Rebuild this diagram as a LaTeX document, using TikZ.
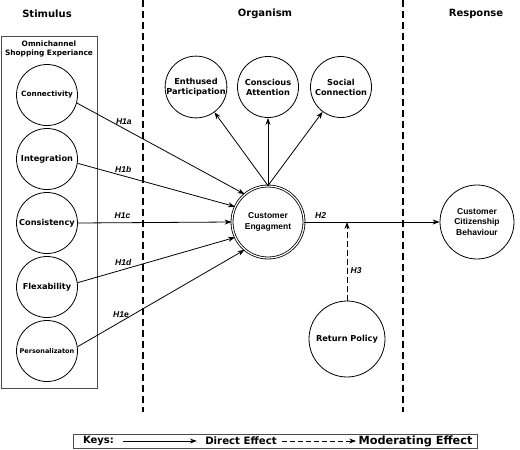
\documentclass[tikz,border=0pt]{standalone}
\usepackage{fontspec}
\setmainfont{DejaVu Sans}
\newfontfamily\arialfont{Liberation Sans}
\usepackage{tikz}
\usetikzlibrary{shapes, arrows.meta, positioning}
\tikzstyle{construct} = [circle, draw, minimum size=61pt, inner sep=0pt,
    align=center, font=\bfseries\fontsize{8.2}{10}\selectfont]
\tikzstyle{central} = [circle, draw, double, double distance=1.2pt, minimum size=72pt,
    inner sep=0pt, align=center, font=\arialfont\bfseries\fontsize{8.5}{11}\selectfont]
\tikzstyle{outcome} = [circle, draw, minimum size=74pt, inner sep=0pt,
    align=center, font=\arialfont\bfseries\fontsize{8.5}{10.5}\selectfont]
\tikzstyle{header} = [font=\bfseries\fontsize{10}{12}\selectfont]
\tikzstyle{hyp} = [font=\arialfont\bfseries\itshape\fontsize{8.5}{10}\selectfont]
\tikzstyle{keytext} = [inner sep=0pt, font=\bfseries\fontsize{10}{12}\selectfont]
\tikzstyle{frame} = [draw=black!70, inner sep=0pt]
\tikzstyle{line} = [draw, -{Stealth[length=7pt, width=5pt]}]
\tikzstyle{divider} = [draw, line width=1.3pt, dash pattern=on 7pt off 4pt]

\begin{document}
\begin{tikzpicture}[x=1pt, y=1pt, node distance=64pt, line width=0.8pt]
        \useasboundingbox (0,0) rectangle (520,-450);
        % Headers and dividers
        \node [header] (stimulus) at (47,-14) {Stimulus};
        \node [header] (organism) at (265,-14) {Organism};
        \node [header] (response) at (476,-14) {Response};
        \coordinate (divtopA) at (143,0);
        \coordinate (divbotA) at (143,-412);
        \coordinate (divtopB) at (403,0);
        \coordinate (divbotB) at (403,-412);
        \path [divider] (divtopA) -- (divbotA);
        \path [divider] (divtopB) -- (divbotB);
        % Stimulus box
        \node [frame, minimum width=96pt, minimum height=352pt] (omnibox) at (49,-212) {};
        \node [below=2pt of omnibox.north, align=center,
            font=\bfseries\fontsize{7.4}{9}\selectfont] (omni) {Omnichannel\\Shopping Experiance};
        % Place nodes
        \node [construct, font=\bfseries\fontsize{7.3}{9}\selectfont] (conn) at (47,-95) {Connectivity};
        \node [construct, below of=conn] (integ) {Integration};
        \node [construct, below of=integ] (consist) {Consistency};
        \node [construct, below of=consist] (flex) {Flexability};
        \node [construct, below of=flex, font=\bfseries\fontsize{6.5}{8}\selectfont] (person) {Personalizaton};
        \node [central] (engage) at (268,-222) {Customer\\Engagment};
        \node [construct, above of=engage, node distance=135pt] (attention) {Conscious\\Attention};
        \node [construct, left of=attention, node distance=72pt] (enthused) {Enthused\\Participation};
        \node [construct, right of=attention, node distance=73pt] (social) {Social\\Connection};
        \node [outcome, right of=engage, node distance=209pt] (citizen) {Customer\\Citizenship\\Behaviour};
        \node [construct, minimum size=76pt] (policy) at (347,-339) {Return Policy};
        \coordinate (moderate) at (policy.north |- engage.east);
        % Draw edges
        \path [line] (conn.-15) -- node [hyp, pos=0.28, above] {H1a} (engage.130);
        \path [line] (integ.-8) -- node [hyp, pos=0.29, above] {H1b} (engage.155);
        \path [line] (consist.east) -- node [hyp, pos=0.29, above] {H1c} (engage.west);
        \path [line] (flex.8) -- node [hyp, pos=0.29, above] {H1d} (engage.205);
        \path [line] (person.8) -- node [hyp, pos=0.26, above] {H1e} (engage.230);
        \path [line] (engage.north) -- (enthused);
        \path [line] (engage.north) -- (attention);
        \path [line] (engage.north) -- (social);
        \path [line] (engage) -- node [hyp, pos=0.12, above] {H2} (citizen);
        \path [line, dash pattern=on 6pt off 3pt] (policy) -- node [hyp, pos=0.38, right] {H3} (moderate);
        % Keys
        \node [frame, minimum width=404pt, minimum height=14pt] (keybox) at (275,-441) {};
        \node [keytext] (keys) at (98.5,-441) {Keys:};
        \node [keytext, font=\bfseries\fontsize{10.2}{12}\selectfont] (direct) at (241,-441) {Direct Effect};
        \node [keytext, font=\bfseries\fontsize{11.3}{13}\selectfont] (moderating) at (415.5,-441) {Moderating Effect};
        \path [line] ([xshift=9pt]keys.east) -- ([xshift=-8pt]direct.west);
        \path [line, dash pattern=on 5pt off 3pt] ([xshift=5pt]direct.east) -- ([xshift=-2pt]moderating.west);
    \end{tikzpicture}
\end{document}
